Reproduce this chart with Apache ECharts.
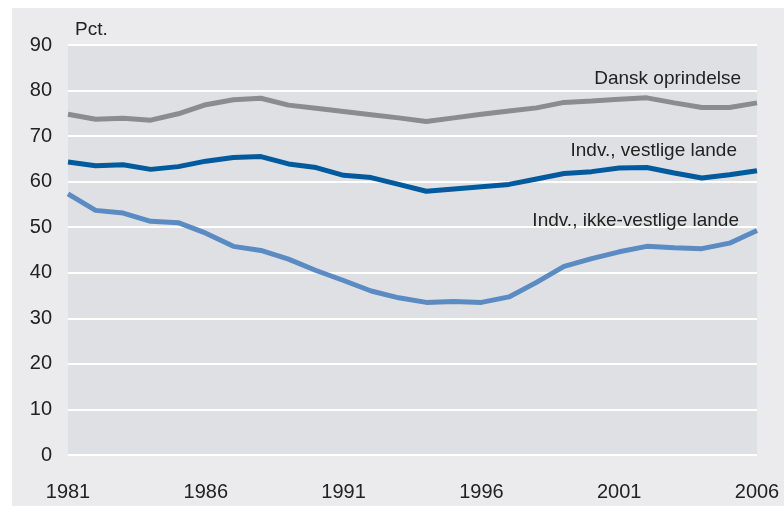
<!DOCTYPE html>
<html>
<head>
<meta charset="utf-8">
<script src="https://cdn.jsdelivr.net/npm/echarts@6/dist/echarts.min.js"></script>
<style>
  html,body{margin:0;padding:0;background:#fff;}
  #chart{width:784px;height:506px;}
</style>
</head>
<body>
<div id="chart"></div>
<script>
"use strict";

// years on the x axis
var years=[];
for (var y=1981;y<=2006;y++) years.push(String(y));

// values (pct.)
var dansk=[74.8,73.7,73.9,73.5,74.9,76.9,78.0,78.3,76.8,76.1,75.4,74.7,74.0,73.2,74.0,74.8,75.5,76.2,77.4,77.7,78.1,78.4,77.3,76.3,76.3,77.3];
var vestlige=[64.3,63.5,63.7,62.7,63.3,64.5,65.3,65.5,63.9,63.1,61.4,60.9,59.4,57.9,58.4,58.9,59.4,60.6,61.8,62.2,63.0,63.1,61.9,60.8,61.5,62.4];
var ikkeVestlige=[57.3,53.7,53.1,51.3,51.0,48.7,45.8,44.9,43.0,40.5,38.3,36.0,34.5,33.5,33.7,33.5,34.7,37.9,41.4,43.1,44.6,45.8,45.5,45.3,46.5,49.3];

var seriesNames=["Dansk oprindelse","Indv., vestlige lande","Indv., ikke-vestlige lande"];
var seriesColors=["#8b8c8f","#005a9e","#5b8bc3"];
// where each name sits (baseline, in data units) at the 2006 end
var labelAt=[80.6,64.7,49.4];
var labelShift=[16,20,18];

var FONT="'Liberation Sans Narrow','Liberation Sans',sans-serif";

var chart=echarts.init(document.getElementById("chart"),null,{renderer:"canvas"});

function lineSeries(name,data,color){
  return {
    name:name,
    type:"line",
    data:data,
    symbol:"none",
    smooth:false,
    lineStyle:{color:color,width:5},
    itemStyle:{color:color},
    z:3
  };
}

var opt={
  backgroundColor:"#ffffff",
  animation:false,
  grid:{
    left:68,right:27,top:45,bottom:51,
    show:true,backgroundColor:"#dfe0e3",borderWidth:0
  },
  xAxis:{
    type:"category",
    data:years,
    boundaryGap:false,
    axisLine:{show:false},
    axisTick:{show:false},
    splitLine:{show:false},
    axisLabel:{
      interval:4,
      margin:27,
      color:"#222",
      fontFamily:FONT,
      fontSize:20,
      showMinLabel:true,
      showMaxLabel:true
    }
  },
  yAxis:{
    type:"value",
    min:0,max:90,interval:10,
    axisLine:{show:false},
    axisTick:{show:false},
    splitLine:{show:true,lineStyle:{color:"#ffffff",width:2}},
    axisLabel:{
      margin:16,
      color:"#222",
      fontFamily:FONT,
      fontSize:20
    }
  },
  series:[
    lineSeries(seriesNames[0],dansk,seriesColors[0]),
    lineSeries(seriesNames[1],vestlige,seriesColors[1]),
    lineSeries(seriesNames[2],ikkeVestlige,seriesColors[2])
  ],
  graphic:[
    {type:"rect",left:12,top:8,z:-10,silent:true,
      shape:{width:772,height:498},style:{fill:"#ebebed"}},
    {type:"text",left:75,top:20,z:10,silent:true,
      style:{text:"Pct.",fill:"#222",font:"19px "+FONT}}
  ]
};

chart.setOption(opt);

// series names placed right-aligned near the last point
var labels=[];
for (var i=0;i<seriesNames.length;i++){
  var p=chart.convertToPixel({gridIndex:0},[years.length-1,labelAt[i]]);
  labels.push({
    type:"text",z:10,silent:true,
    x:p[0]-labelShift[i],y:p[1],
    style:{text:seriesNames[i],fill:"#222",font:"19px "+FONT,align:"right",verticalAlign:"bottom"}
  });
}
chart.setOption({graphic:opt.graphic.concat(labels)});
</script>
</body>
</html>
